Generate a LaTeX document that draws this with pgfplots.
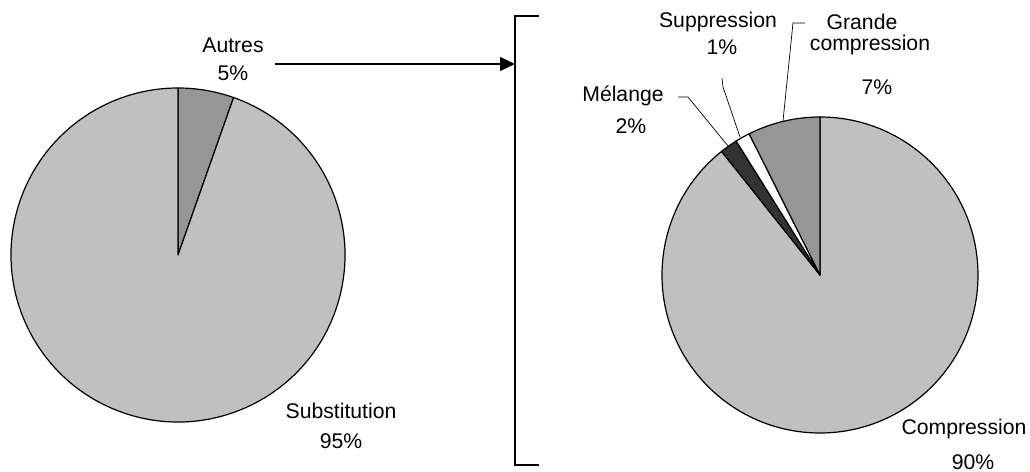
\documentclass[border=0pt]{standalone}
\usepackage{pgfplots}
\usepackage{pgfplotstable}
\pgfplotsset{compat=1.18}
\usepackage{fontspec}
\setmainfont{Liberation Sans}
\usetikzlibrary{arrows.meta}

\definecolor{lightgrey}{HTML}{C0C0C0}
\definecolor{midgrey}{HTML}{969696}
\definecolor{darkslice}{HTML}{333333}

% slices in Excel order: first one starts at 12 o'clock, clockwise
\pgfplotstableread{
label value color
Autres 5.4 midgrey
Substitution 94.6 lightgrey
}\leftpie
\pgfplotstableread{
label value color
Compression 89.3 lightgrey
Melange 1.8 darkslice
Suppression 1.5 white
Grande 7.4 midgrey
}\rightpie

% #1 table, #2 cx, #3 cy, #4 radius (all in axis units = 0.5pt)
\newcommand\drawpie[4]{%
  \pgfplotstablegetrowsof{#1}\pgfmathtruncatemacro\lastrow{\pgfplotsretval-1}%
  \gdef\cum{0}%
  \foreach \i in {0,...,\lastrow}{%
    \pgfplotstablegetelem{\i}{value}\of{#1}\let\v\pgfplotsretval
    \pgfplotstablegetelem{\i}{color}\of{#1}\let\c\pgfplotsretval
    \pgfmathsetmacro\sa{90-3.6*\cum}%
    \pgfmathsetmacro\ea{90-3.6*(\cum+\v)}%
    \filldraw[fill=\c, draw=black, line width=0.6pt, line join=round]
      (axis cs:#2,#3) -- ++(\sa:#4*0.5pt)
      arc[start angle=\sa, end angle=\ea, radius=#4*0.5pt] -- cycle;
    \pgfmathsetmacro\newcum{\cum+\v}%
    \xdef\cum{\newcum}%
  }%
}

\begin{document}
\begin{tikzpicture}
\begin{axis}[
    scale only axis,
    x=0.5pt, y=0.5pt,
    xmin=0, xmax=1030, ymin=0, ymax=472,
    hide axis,
    clip=false,
]
\coordinate (sw) at (axis cs:0,0);
\coordinate (ne) at (axis cs:1030,472);
\pgfplotsextra{
  \drawpie{\leftpie}{178}{217}{167}
  \drawpie{\rightpie}{820}{197}{158}
}

\begin{scope}[font=\fontsize{10.6}{12.7}\selectfont, inner sep=0pt]
% left pie labels
\node at (axis cs:233,427) {Autres};
\node at (axis cs:233,399) {5\%};
\node at (axis cs:341,61) {Substitution};
\node at (axis cs:341,31) {95\%};
% right pie labels
\node at (axis cs:718,450) {Suppression};
\node at (axis cs:722,425) {1\%};
\node at (axis cs:862,450) {Grande};
\node at (axis cs:870,427) {compression};
\node at (axis cs:877,385) {7\%};
\node at (axis cs:623,376) {Mélange};
\node at (axis cs:631,346) {2\%};
\node at (axis cs:964,43) {Compression};
\node at (axis cs:973,10) {90\%};
\end{scope}

% leader lines
\draw[line width=0.35pt] (axis cs:678,375) -- (axis cs:688,375) -- (axis cs:728,326);
\draw[line width=0.35pt] (axis cs:722,394) -- (axis cs:723,385) -- (axis cs:740,335);
\draw[line width=0.35pt] (axis cs:805,449) -- (axis cs:793,449) -- (axis cs:783,351);

% arrow and bracket
\draw[line width=0.6pt, -{Triangle[length=7.5pt,width=7pt]}] (axis cs:275,408) -- (axis cs:515,408);
\draw[line width=0.6pt] (axis cs:539,456) -- (axis cs:515,456) -- (axis cs:515,7) -- (axis cs:539,7);
\end{axis}
\pgfresetboundingbox
\path (sw) rectangle (ne);
\end{tikzpicture}
\end{document}
